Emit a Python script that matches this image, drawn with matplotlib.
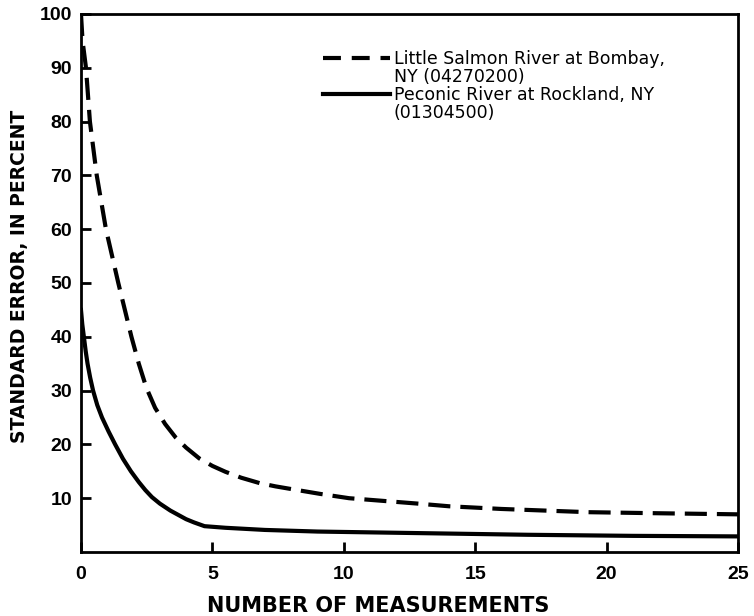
import matplotlib.pyplot as plt
from matplotlib.lines import Line2D

# standard error vs number of discharge measurements
salmon_n = [0, 0.06, 0.19, 0.34, 0.6, 0.95, 1.42, 1.92, 2.2, 2.49, 2.82, 3.2,
            3.6, 4.0, 4.5, 5.0, 5.5, 6.1, 6.8, 7.4, 8.0, 9.1, 10.2, 11.5,
            12.8, 14, 16, 19.3, 22, 25]
salmon_err = [100, 95, 90, 80, 70, 60, 50, 40, 35, 30.5, 26.8, 23.8,
              21.3, 19.4, 17.4, 16.0, 14.9, 13.8, 12.8, 12.2, 11.7, 10.8, 10.0, 9.5,
              9.0, 8.5, 8.0, 7.4, 7.2, 7.0]

peconic_n = [0, 0.05, 0.11, 0.18, 0.25, 0.35, 0.46, 0.62, 0.8, 1.05, 1.3, 1.6,
             1.9, 2.2, 2.45, 2.7, 3.0, 3.4, 3.7, 4.0, 4.3, 4.7, 5.5, 7,
             9, 13, 17, 21, 25]
peconic_err = [45, 42.3, 40, 37.3, 35, 32.4, 30, 27.3, 25, 22.4, 20, 17.3,
               15, 13.0, 11.5, 10.2, 9.0, 7.7, 6.9, 6.1, 5.5, 4.8, 4.5, 4.1,
               3.8, 3.5, 3.2, 3.0, 2.9]

salmon_label = ["Little Salmon River at Bombay,", "NY (04270200)"]
peconic_label = ["Peconic River at Rockland, NY", "(01304500)"]

xticks = [0, 5, 10, 15, 20, 25]
yticks = [10, 20, 30, 40, 50, 60, 70, 80, 90, 100]

fig = plt.figure(figsize=(7.54, 6.16), dpi=100)
ax = fig.add_axes([0.1074, 0.1039, 0.8714, 0.8734])

ax.plot(salmon_n, salmon_err, color="black", lw=3, linestyle=(0, (5.3, 2.4)))
ax.plot(peconic_n, peconic_err, color="black", lw=3)

ax.set_xlim(0, 25)
ax.set_ylim(0, 100)
ax.set_xticks(xticks)
ax.set_yticks(yticks)

for s in ax.spines.values():
    s.set_linewidth(2)
ax.tick_params(direction="in", length=7, width=2)
ax.tick_params(axis="y", pad=6.5)
ax.tick_params(axis="x", pad=10)
for t in ax.get_xticklabels() + ax.get_yticklabels():
    t.set_fontfamily("Liberation Sans")
    t.set_fontweight("bold")
    t.set_fontsize(14)

ax.set_xlabel("NUMBER OF MEASUREMENTS", fontfamily="DejaVu Sans",
              fontweight="bold", fontsize=15)
ax.set_ylabel("STANDARD ERROR, IN PERCENT", fontfamily="DejaVu Sans",
              fontweight="bold", fontsize=13.5)
ax.xaxis.set_label_coords(0.452, -0.082)
ax.yaxis.set_label_coords(-0.079, 0.513)

# legend: one key per two-line label, second lines get a blank key
blank = Line2D([], [], linestyle="none")
handles = [Line2D([], [], color="black", lw=3, linestyle=(0, (4.3, 2.6))), blank,
           Line2D([], [], color="black", lw=3), blank]
labels = [salmon_label[0], salmon_label[1], peconic_label[0], peconic_label[1]]
leg = ax.legend(handles, labels, loc="upper left", bbox_to_anchor=(0.3676, 0.9333),
                frameon=False, prop={"family": "DejaVu Sans", "size": 12.5},
                handlelength=3.9, handletextpad=0.2, labelspacing=0.0,
                borderpad=0, borderaxespad=0)

fig.savefig("out.png", dpi=100)
